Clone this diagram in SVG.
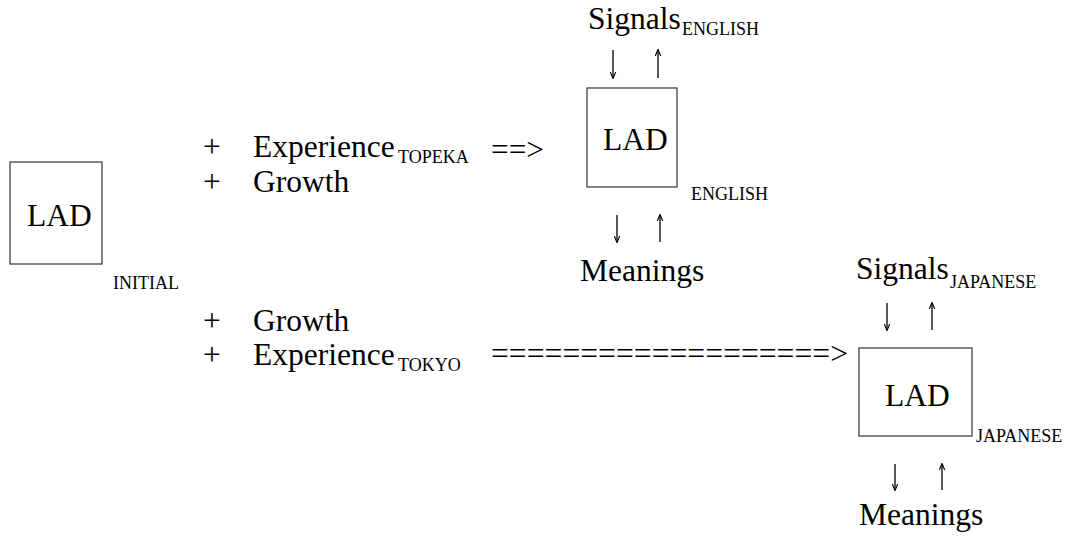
<svg xmlns="http://www.w3.org/2000/svg" width="1071" height="536" viewBox="0 0 1071 536">
<style>
text{font-family:"Liberation Serif","Times New Roman",serif;fill:#000}
.big{font-size:31.5px}
.sub{font-size:18px}
.box{fill:#fff;stroke:#333;stroke-width:1.2}
.arr{stroke:#000;stroke-width:1.3;fill:none}
</style>
<defs>
<marker id="head" viewBox="0 0 10 10" refX="9" refY="5" markerWidth="7" markerHeight="7" markerUnits="userSpaceOnUse" orient="auto">
<path d="M0,1 L10,5 L0,9" fill="none" stroke="#000" stroke-width="1.6"/>
</marker>
</defs>
<rect width="1071" height="536" fill="#fff"/>
<g id="lad-initial">
<rect class="box" x="10" y="162" width="92" height="102"/>
<text class="big" x="27" y="226">LAD</text>
<text class="sub" x="113" y="289">INITIAL</text>
</g>
<g id="inputs-english">
<text class="big" x="203" y="157">+</text>
<text class="big" x="253" y="157">Experience</text>
<text class="sub" x="398" y="163">TOPEKA</text>
<text class="big" x="203" y="192">+</text>
<text class="big" x="253" y="192">Growth</text>
</g>
<g id="inputs-japanese">
<text class="big" x="203" y="331">+</text>
<text class="big" x="253" y="331">Growth</text>
<text class="big" x="203" y="365">+</text>
<text class="big" x="253" y="365">Experience</text>
<text class="sub" x="398" y="371">TOKYO</text>
</g>
<g id="lad-english">
<text class="big" x="588" y="29">Signals</text>
<text class="sub" x="682" y="35">ENGLISH</text>
<rect class="box" x="587" y="88" width="90" height="99"/>
<text class="big" x="603" y="150">LAD</text>
<text class="sub" x="691" y="200">ENGLISH</text>
<text class="big" x="580" y="281">Meanings</text>
</g>
<g id="lad-japanese">
<text class="big" x="856" y="279">Signals</text>
<text class="sub" x="950" y="288">JAPANESE</text>
<rect class="box" x="859" y="348" width="113" height="88"/>
<text class="big" x="885" y="406">LAD</text>
<text class="sub" x="976" y="442">JAPANESE</text>
<text class="big" x="859" y="525">Meanings</text>
</g>
<g id="connectors">
<text class="big" x="491" y="160" textLength="53" lengthAdjust="spacingAndGlyphs">==&gt;</text>
<text class="big" x="491" y="364" textLength="357" lengthAdjust="spacingAndGlyphs">===================&gt;</text>
<line class="arr" x1="613" y1="50" x2="613" y2="78" marker-end="url(#head)"/>
<line class="arr" x1="658" y1="78" x2="658" y2="50" marker-end="url(#head)"/>
<line class="arr" x1="617" y1="215" x2="617" y2="242" marker-end="url(#head)"/>
<line class="arr" x1="660" y1="242" x2="660" y2="215" marker-end="url(#head)"/>
<line class="arr" x1="887" y1="303" x2="887" y2="330" marker-end="url(#head)"/>
<line class="arr" x1="932" y1="330" x2="932" y2="303" marker-end="url(#head)"/>
<line class="arr" x1="895" y1="464" x2="895" y2="490" marker-end="url(#head)"/>
<line class="arr" x1="942" y1="490" x2="942" y2="464" marker-end="url(#head)"/>
</g>
</svg>
